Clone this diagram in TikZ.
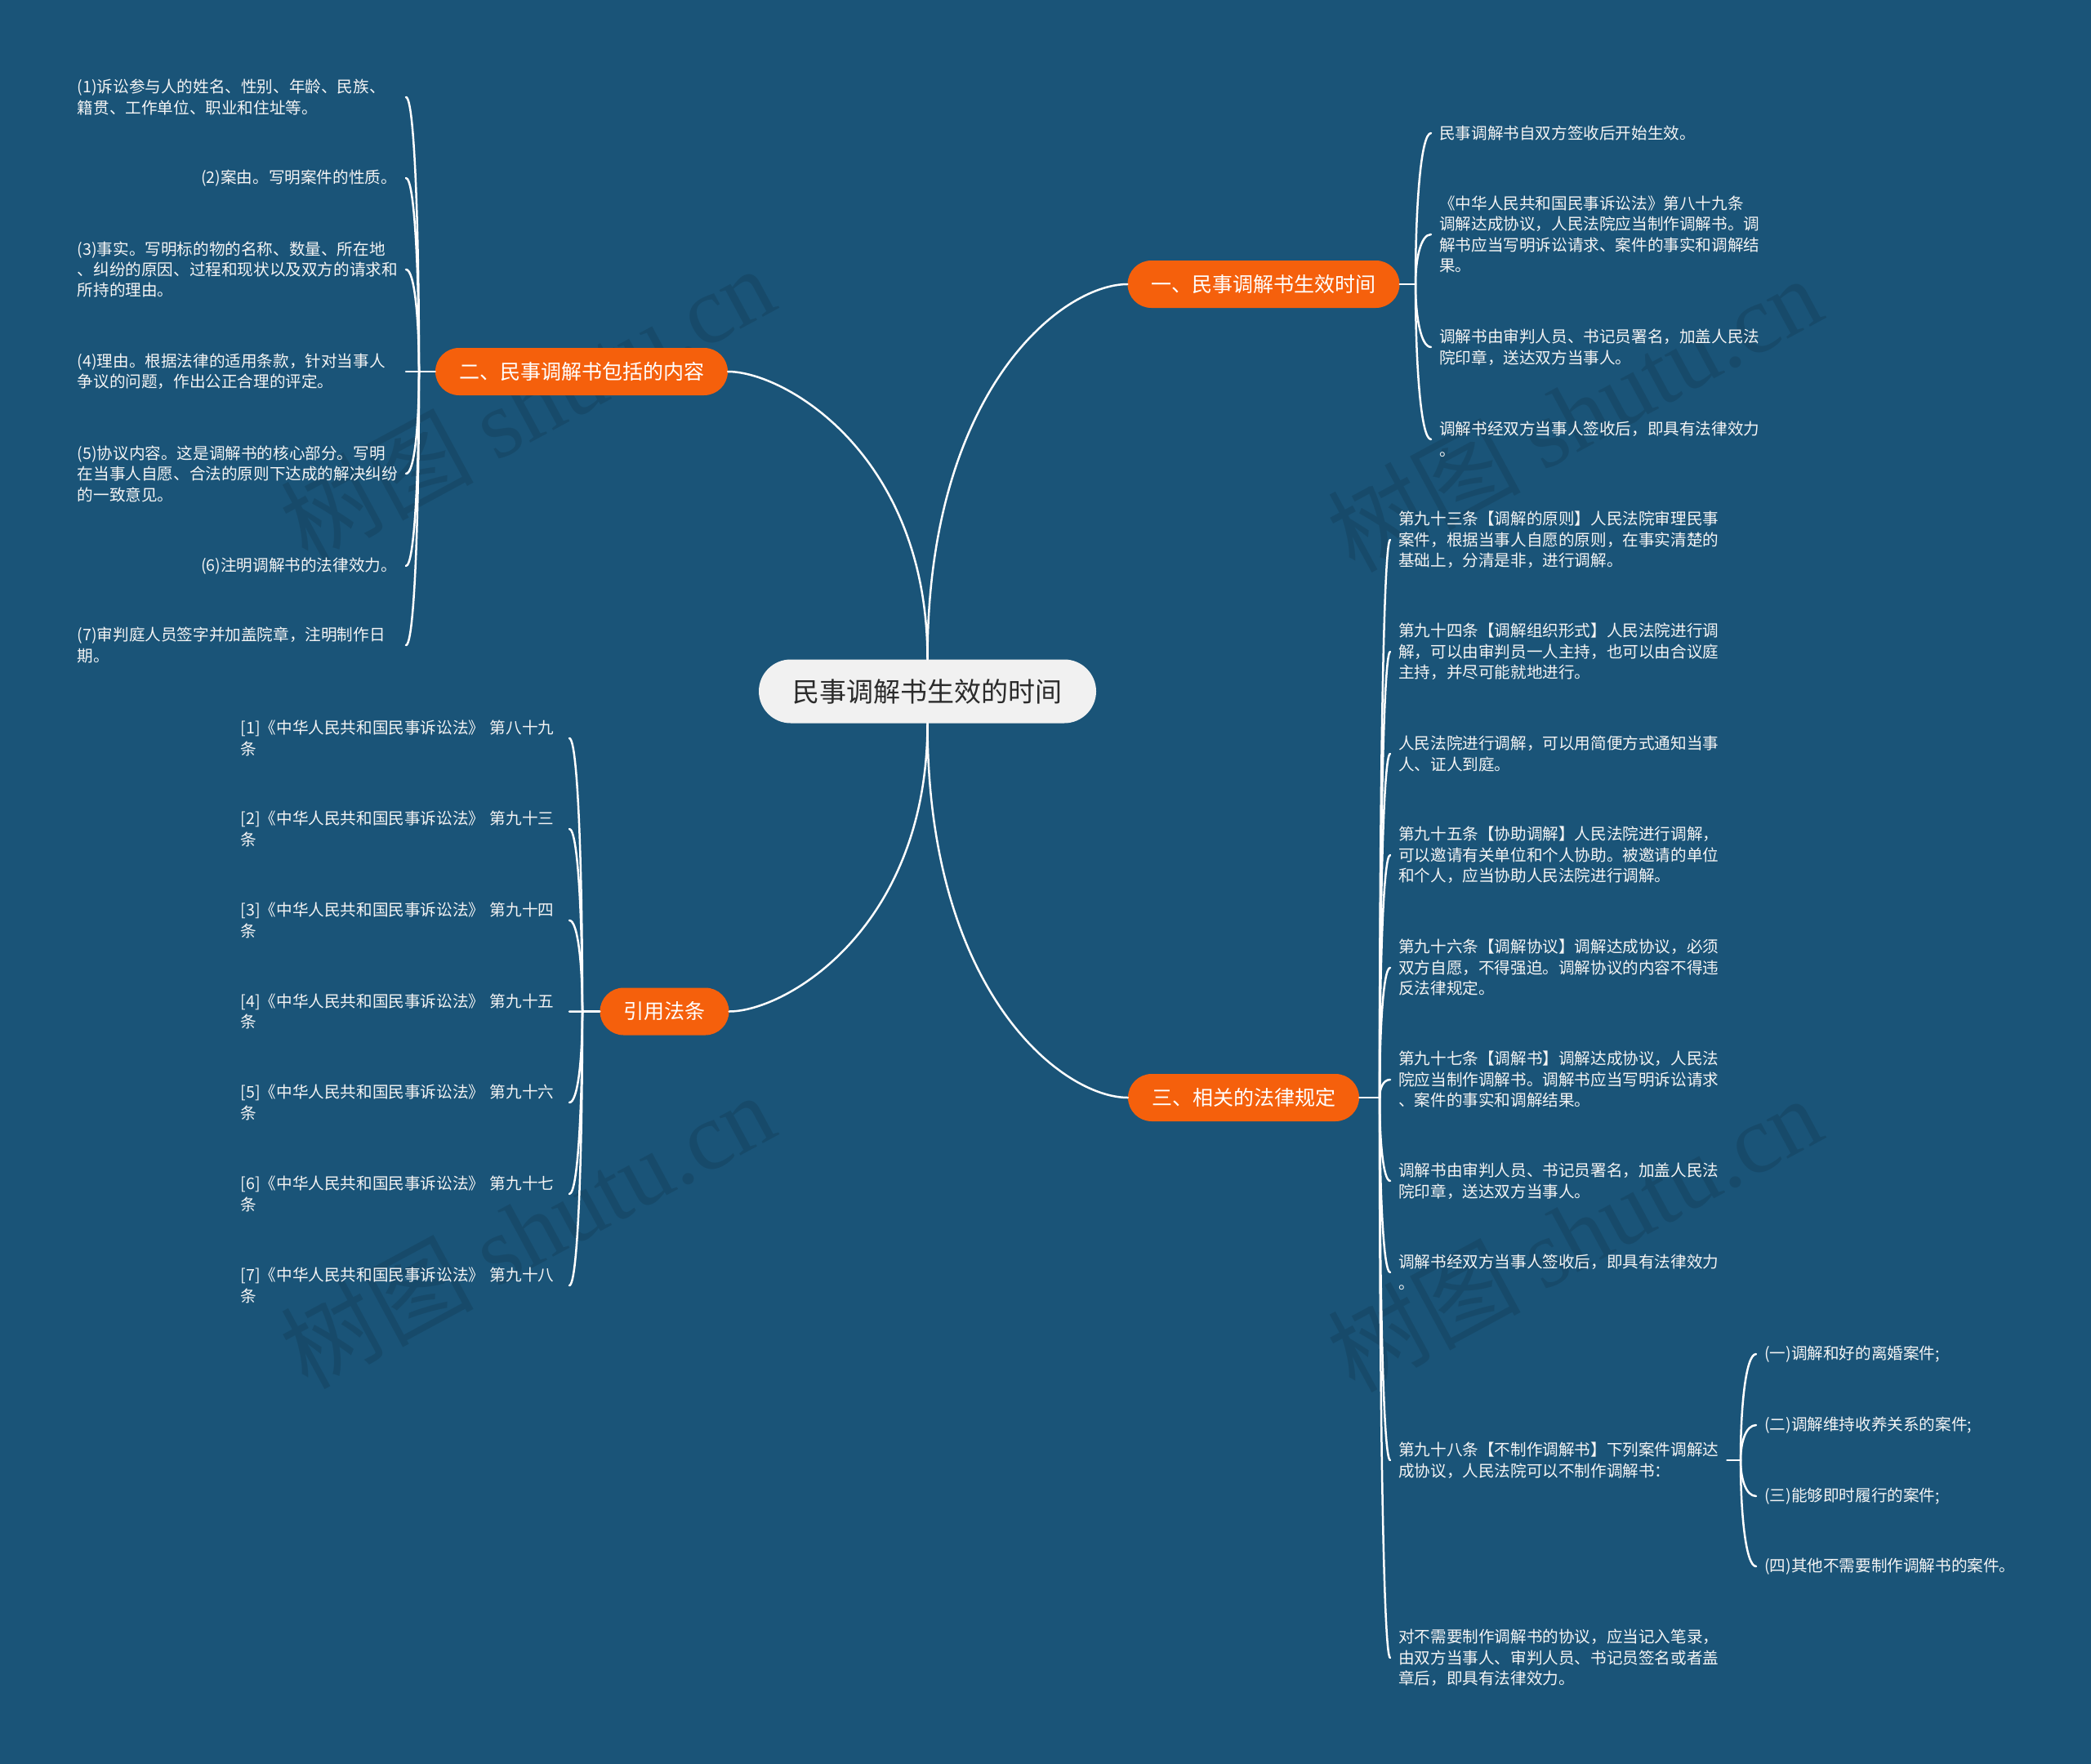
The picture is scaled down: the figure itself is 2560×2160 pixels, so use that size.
\documentclass[tikz,border=0pt]{standalone}
\usepackage{fontspec}
\setmainfont{Noto Sans CJK SC}
\newfontfamily\wmserif{Liberation Serif}
\usetikzlibrary{calc}
\definecolor{bg}{HTML}{1A5478}
\definecolor{org}{HTML}{F5600C}
\definecolor{ctr}{HTML}{F1F1F1}
\definecolor{ctrtext}{HTML}{2B2B2B}
\definecolor{leaftext}{HTML}{F4F4F4}
\tikzset{
  link/.style={draw=white, line width=2.5pt, line cap=round},
  rootbox/.style={fill=ctr, text=ctrtext, rounded corners=39pt, minimum width=413pt,
    minimum height=78pt, inner sep=0pt, font=\fontsize{33}{40}\selectfont},
  branch/.style={fill=org, text=white, rounded corners=29pt, minimum height=58pt,
    inner xsep=29pt, inner ysep=0pt, font=\fontsize{25}{30}\selectfont},
  leaf/.style={text=leaftext, inner xsep=10pt, inner ysep=0pt,
    font=\fontsize{19.6}{25.5}\selectfont},
  block/.style={leaf, text width=392pt, align=left},
  wm/.style={rotate=28.4, text=black, opacity=0.11, inner sep=0pt,
    font=\fontsize{118}{130}\selectfont}
}
\newcommand\brk[2]{\draw[link] (#1) .. controls ($(#1)!0.5!(#1|-#2)$) and ($(#2)!0.67!(#1|-#2)$) .. (#2);}
\begin{document}
\begin{tikzpicture}[x=1pt,y=-1pt]
\path[use as bounding box, fill=bg] (0,0) rectangle (2560,2160);

% watermarks
\node[wm] (wm1) at (645,494) {树图 {\wmserif shutu.cn}};
\node[wm] (wm2) at (1927,506) {树图 {\wmserif shutu.cn}};
\node[wm] (wm3) at (645,1506) {树图 {\wmserif shutu.cn}};
\node[wm] (wm4) at (1927,1510) {树图 {\wmserif shutu.cn}};

% root and branches
\node[rootbox] (root) at (1135.5,846.5) {民事调解书生效的时间};
\node[branch] (n1) at (1547,348) {一、民事调解书生效时间};
\node[branch] (n2) at (712,455) {二、民事调解书包括的内容};
\node[branch] (n3) at (813.5,1238.5) {引用法条};
\node[branch] (n4) at (1522.5,1344) {三、相关的法律规定};

\draw[link] (root.north) .. controls +(0,-330) and +(-80,0) .. (n1.west);
\draw[link] (root.north) .. controls +(0,-250) and +(70,0) .. (n2.east);
\draw[link] (root.south) .. controls +(0,250) and +(70,0) .. (n3.east);
\draw[link] (root.south) .. controls +(0,330) and +(-80,0) .. (n4.west);

% spine points
\coordinate (s1) at (1733,348);
\coordinate (s2) at (513,455);
\coordinate (s3) at (713,1238.5);
\coordinate (s4) at (1689,1344);
\coordinate (s5) at (2131,1788);

% branch 1 children
\node[leaf, anchor=west] (c1) at (1752,163) {民事调解书自双方签收后开始生效。};
\node[block, anchor=west] (c2) at (1752,287) {《中华人民共和国民事诉讼法》第八十九条\\调解达成协议，人民法院应当制作调解书。调\\解书应当写明诉讼请求、案件的事实和调解结\\果。};
\node[block, anchor=west] (c3) at (1752,425) {调解书由审判人员、书记员署名，加盖人民法\\院印章，送达双方当事人。};
\node[block, anchor=west] (c4) at (1752,538) {调解书经双方当事人签收后，即具有法律效力\\。};

% branch 2 children
\node[block, anchor=east] (b1) at (497,119) {(1)诉讼参与人的姓名、性别、年龄、民族、\\籍贯、工作单位、职业和住址等。};
\node[leaf, anchor=east, inner xsep=11pt] (b2) at (497,218) {(2)案由。写明案件的性质。};
\node[block, anchor=east] (b3) at (497,330) {(3)事实。写明标的物的名称、数量、所在地\\、纠纷的原因、过程和现状以及双方的请求和\\所持的理由。};
\node[block, anchor=east] (b4) at (497,455) {(4)理由。根据法律的适用条款，针对当事人\\争议的问题，作出公正合理的评定。};
\node[block, anchor=east] (b5) at (497,580) {(5)协议内容。这是调解书的核心部分。写明\\在当事人自愿、合法的原则下达成的解决纠纷\\的一致意见。};
\node[leaf, anchor=east, inner xsep=11pt] (b6) at (497,693) {(6)注明调解书的法律效力。};
\node[block, anchor=east] (b7) at (497,790) {(7)审判庭人员签字并加盖院章，注明制作日\\期。};

% branch 3 children
\node[block, anchor=east] (f1) at (697,904) {[1]《中华人民共和国民事诉讼法》~第八十九\\条};
\node[block, anchor=east] (f2) at (697,1015) {[2]《中华人民共和国民事诉讼法》~第九十三\\条};
\node[block, anchor=east] (f3) at (697,1127) {[3]《中华人民共和国民事诉讼法》~第九十四\\条};
\node[block, anchor=east] (f4) at (697,1238.5) {[4]《中华人民共和国民事诉讼法》~第九十五\\条};
\node[block, anchor=east] (f5) at (697,1350) {[5]《中华人民共和国民事诉讼法》~第九十六\\条};
\node[block, anchor=east] (f6) at (697,1462) {[6]《中华人民共和国民事诉讼法》~第九十七\\条};
\node[block, anchor=east] (f7) at (697,1574) {[7]《中华人民共和国民事诉讼法》~第九十八\\条};

% branch 4 children
\node[block, anchor=west] (d1) at (1702,661) {第九十三条【调解的原则】人民法院审理民事\\案件，根据当事人自愿的原则，在事实清楚的\\基础上，分清是非，进行调解。};
\node[block, anchor=west] (d2) at (1702,798) {第九十四条【调解组织形式】人民法院进行调\\解，可以由审判员一人主持，也可以由合议庭\\主持，并尽可能就地进行。};
\node[block, anchor=west] (d3) at (1702,923) {人民法院进行调解，可以用简便方式通知当事\\人、证人到庭。};
\node[block, anchor=west] (d4) at (1702,1047) {第九十五条【协助调解】人民法院进行调解，\\可以邀请有关单位和个人协助。被邀请的单位\\和个人，应当协助人民法院进行调解。};
\node[block, anchor=west] (d5) at (1702,1185) {第九十六条【调解协议】调解达成协议，必须\\双方自愿，不得强迫。调解协议的内容不得违\\反法律规定。};
\node[block, anchor=west] (d6) at (1702,1322) {第九十七条【调解书】调解达成协议，人民法\\院应当制作调解书。调解书应当写明诉讼请求\\、案件的事实和调解结果。};
\node[block, anchor=west] (d7) at (1702,1446) {调解书由审判人员、书记员署名，加盖人民法\\院印章，送达双方当事人。};
\node[block, anchor=west] (d8) at (1702,1558) {调解书经双方当事人签收后，即具有法律效力\\。};
\node[block, anchor=west] (d9) at (1702,1788) {第九十八条【不制作调解书】下列案件调解达\\成协议，人民法院可以不制作调解书：};
\node[block, anchor=west] (d10) at (1702,2030) {对不需要制作调解书的协议，应当记入笔录，\\由双方当事人、审判人员、书记员签名或者盖\\章后，即具有法律效力。};

% sub-children of d9
\node[leaf, anchor=west] (e1) at (2150,1658) {(一)调解和好的离婚案件;};
\node[leaf, anchor=west] (e2) at (2150,1745) {(二)调解维持收养关系的案件;};
\node[leaf, anchor=west] (e3) at (2150,1832) {(三)能够即时履行的案件;};
\node[leaf, anchor=west] (e4) at (2150,1918) {(四)其他不需要制作调解书的案件。};

% stems
\draw[link] (n1.east) -- (s1);
\draw[link] (n2.west) -- (s2);
\draw[link] (n3.west) -- (s3);
\draw[link] (n4.east) -- (s4);
\draw[link] (d9.east) -- (s5);

% brackets
\foreach \c in {c1,c2,c3,c4} {\brk{s1}{\c.west}}
\foreach \c in {b1,b2,b3,b4,b5,b6,b7} {\brk{s2}{\c.east}}
\foreach \c in {f1,f2,f3,f4,f5,f6,f7} {\brk{s3}{\c.east}}
\foreach \c in {d1,d2,d3,d4,d5,d6,d7,d8,d9,d10} {\brk{s4}{\c.west}}
\foreach \c in {e1,e2,e3,e4} {\brk{s5}{\c.west}}
\end{tikzpicture}
\end{document}
